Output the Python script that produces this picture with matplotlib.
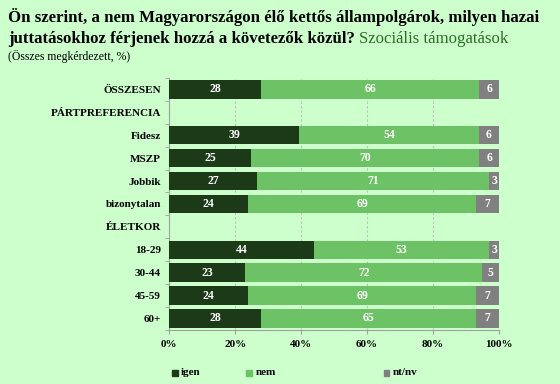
import matplotlib
matplotlib.use("Agg")
import matplotlib.pyplot as plt
from matplotlib.patches import Rectangle
import numpy as np

# data
categories = ["ÖSSZESEN", "PÁRTPREFERENCIA", "Fidesz", "MSZP", "Jobbik", "bizonytalan",
              "ÉLETKOR", "18-29", "30-44", "45-59", "60+"]
igen = [28, 0, 39, 25, 27, 24, 0, 44, 23, 24, 28]
nem = [66, 0, 54, 70, 71, 69, 0, 53, 72, 69, 65]
ntnv = [6, 0, 6, 6, 3, 7, 0, 3, 5, 7, 7]
series_names = ["igen", "nem", "nt/nv"]
xticks = [0, 20, 40, 60, 80, 100]

bg = "#CCFFCC"
colors = ["#1C3A18", "#6EC266", "#808080"]
serif = ["Liberation Serif", "DejaVu Serif"]
plt.rcParams["font.family"] = serif

fig = plt.figure(figsize=(5.6, 3.84), dpi=100, facecolor=bg)
ax = fig.add_axes([0.302, 0.141, 0.589, 0.656])
ax.set_facecolor(bg)

values = np.array([igen, nem, ntnv], dtype=float)
totals = values.sum(axis=0)
totals[totals == 0] = 1
shares = values / totals * 100

y = np.arange(len(categories))
left = np.zeros(len(categories))
for i, name in enumerate(series_names):
    ax.barh(y, shares[i], left=left, height=0.8, color=colors[i], zorder=3)
    for j in range(len(categories)):
        if values[i, j] > 0:
            ax.text(left[j] + shares[i, j] / 2, y[j], str(int(values[i, j])),
                    ha="center", va="center", color="white", fontsize=8.5,
                    fontweight="bold", zorder=4)
    left += shares[i]

ax.set_xlim(0, 100)
ax.set_ylim(len(categories) - 0.5, -0.5)
ax.set_xticks(xticks)
ax.set_xticklabels([f"{t}%" for t in xticks], fontsize=8, fontweight="bold")
ax.set_yticks(y)
ax.set_yticklabels(categories, fontsize=8, fontweight="bold")
ax.tick_params(axis="y", length=0, pad=6)
ax.tick_params(axis="x", length=3, color="#A0A0A0", pad=4)
# small boundary ticks on the category axis
ax.set_yticks(np.arange(-0.5, len(categories)), minor=True)
ax.tick_params(axis="y", which="minor", length=3, color="#A0A0A0")
ax.grid(axis="x", color="#C0C0C0", linestyle=(0, (2, 2)), linewidth=0.8, zorder=0)
for s in ["top", "right"]:
    ax.spines[s].set_visible(False)
for s in ["left", "bottom"]:
    ax.spines[s].set_color("#A0A0A0")

# title
fig.canvas.draw()
r = fig.canvas.get_renderer()
fig.text(0.014, 0.955, "Ön szerint, a nem Magyarországon élő kettős állampolgárok, milyen hazai",
         fontsize=12.1, fontweight="bold", va="center", ha="left")
t2 = fig.text(0.014, 0.898, "juttatásokhoz férjenek hozzá a követezők közül? ",
              fontsize=12.1, fontweight="bold", va="center", ha="left")
bb = t2.get_window_extent(renderer=r)
fig.text(bb.x1 / fig.bbox.width, 0.898, "Szociális támogatások",
         fontsize=12.1, color="#2F6B2A", va="center", ha="left")
fig.text(0.014, 0.853, "(Összes megkérdezett, %)", fontsize=8.5, va="center", ha="left")

# legend
leg_x = [0.307, 0.44, 0.685]
for name, c, lx in zip(series_names, colors, leg_x):
    fig.patches.append(Rectangle((lx, 0.022), 0.01, 0.015, color=c,
                                 transform=fig.transFigure, figure=fig))
    fig.text(lx + 0.016, 0.029, name, fontsize=8, fontweight="bold", va="center", ha="left")

fig.savefig("out.png", dpi=100, facecolor=bg)
